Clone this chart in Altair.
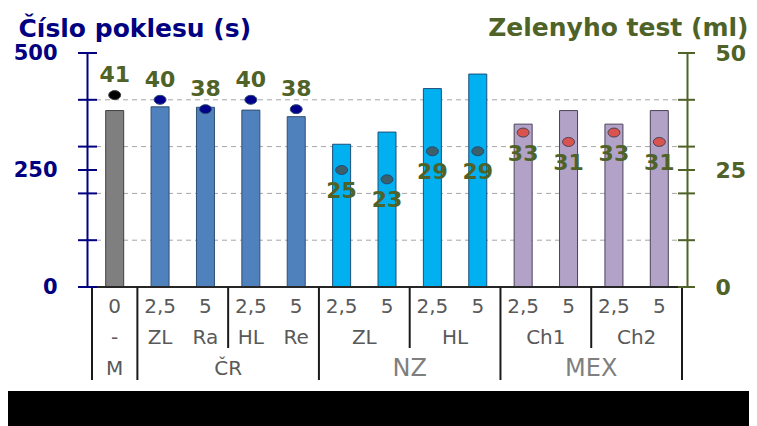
import altair as alt
import pandas as pd

# ---- data ----
row1 = ["0", "2,5", "5", "2,5", "5", "2,5", "5", "2,5", "5", "2,5", "5", "2,5", "5"]
group = ["M", "ČR", "ČR", "ČR", "ČR", "NZ", "NZ", "NZ", "NZ", "MEX", "MEX", "MEX", "MEX"]
cislo = [377, 385, 384, 378, 364, 305, 331, 424, 455, 348, 377, 348, 377]
zeleny = [41, 40, 38, 40, 38, 25, 23, 29, 29, 33, 31, 33, 31]

row2_labels = ["-", "ZL", "Ra", "HL", "Re", "ZL", "HL", "Ch1", "Ch2"]
row2_first = [0, 1, 2, 3, 4, 5, 7, 9, 11]
row2_last = [0, 1, 2, 3, 4, 6, 8, 10, 12]

row3_labels = ["M", "ČR", "NZ", "MEX"]
row3_first = [0, 1, 5, 9]
row3_last = [0, 4, 8, 12]

pair_bounds = [2.5, 6.5, 10.5]          # separators between sub-groups (rows 1-2)
grid_vals = [100, 200, 300, 400]
left_ticks = [0, 100, 200, 250, 300, 400, 500]
right_ticks = [0, 10, 20, 25, 30, 40, 50]

groups = ["M", "ČR", "NZ", "MEX"]
bar_fill = ["#7F7F7F", "#4F81BD", "#00B0F0", "#B3A2C7"]
bar_line = ["#3F3F3F", "#2F4F73", "#1F4E79", "#4A4458"]
dot_fill = ["#000000", "#00008B", "#3B5F6B", "#D9534F"]
dot_line = ["#000000", "#00005A", "#1F3A44", "#8B2E2B"]

NAVY = "#000080"
OLIVE = "#4F6228"
FONT = "DejaVu Sans"

# ---- tables ----
df = pd.DataFrame({"i": list(range(len(row1))), "row1": row1, "group": group,
                   "cislo": cislo, "zeleny": zeleny})
r2 = pd.DataFrame({"lab": row2_labels,
                   "c": [(a + b) / 2 for a, b in zip(row2_first, row2_last)]})
r3 = pd.DataFrame({"lab": row3_labels,
                   "c": [(a + b) / 2 for a, b in zip(row3_first, row3_last)]})
full_b = pd.DataFrame({"b": [f - 0.5 for f in row3_first] + [row3_last[-1] + 0.5]})
short_b = pd.DataFrame({"b": pair_bounds})

xs = alt.Scale(domain=[-0.5, 12.5], nice=False, zero=False)
yL = alt.Scale(domain=[0, 500], nice=False)
yR = alt.Scale(domain=[0, 50], nice=False)
X = lambda f: alt.X(f, scale=xs, axis=None)

ellipse = "M -1.33 0 A 1.33 1 0 1 0 1.33 0 A 1.33 1 0 1 0 -1.33 0 Z"

# ---- layers on the left scale ----
bg = alt.Chart(alt.Data(values=[{}])).mark_rect(color="white").encode(
    x=alt.value(-90), x2=alt.value(700), y=alt.value(-60), y2=alt.value(338))

grid = alt.Chart(pd.DataFrame({"v": grid_vals})).mark_rule(
    color="#A6A6A6", strokeDash=[5, 4], strokeWidth=1).encode(
    y=alt.Y("v:Q", scale=yL, axis=None), x=alt.value(0), x2=alt.value(600))

left_axis = alt.Axis(
    values=[0, 250, 500], title="Číslo poklesu (s)", titleAngle=0,
    titleX=-69, titleY=-17, titleAlign="left", titleBaseline="alphabetic",
    titleFont=FONT, titleFontSize=25, titleFontWeight="bold", titleColor=NAVY,
    labelFont=FONT, labelFontSize=21, labelFontWeight="bold", labelColor=NAVY,
    labelPadding=30, ticks=False, domainColor=NAVY, domainWidth=2, grid=False,
    zindex=1)

bars = alt.Chart(df).mark_bar(size=18, strokeWidth=1).encode(
    x=X("i:Q"),
    y=alt.Y("cislo:Q", scale=yL, axis=left_axis),
    color=alt.Color("group:N", scale=alt.Scale(domain=groups, range=bar_fill), legend=None),
    stroke=alt.Stroke("group:N", scale=alt.Scale(domain=groups, range=bar_line), legend=None),
)

baseline = alt.Chart(alt.Data(values=[{}])).mark_rule(color="#262626", strokeWidth=2).encode(
    y=alt.value(234), x=alt.value(-9), x2=alt.value(608))

sep_full = alt.Chart(full_b).mark_rule(color="#1A1A1A", strokeWidth=2).encode(
    x=X("b:Q"), y=alt.value(234), y2=alt.value(327))
sep_short = alt.Chart(short_b).mark_rule(color="#1A1A1A", strokeWidth=2).encode(
    x=X("b:Q"), y=alt.value(234), y2=alt.value(295))

lticks = alt.Chart(pd.DataFrame({"v": left_ticks})).mark_rule(color=NAVY, strokeWidth=2).encode(
    y=alt.Y("v:Q", scale=yL, axis=None), x=alt.value(-9), x2=alt.value(10))

t1 = alt.Chart(df).mark_text(font=FONT, fontSize=20, color="#595959", baseline="middle").encode(
    x=X("i:Q"), y=alt.value(254), text="row1:N")
t2 = alt.Chart(r2).mark_text(font=FONT, fontSize=20, color="#595959", baseline="middle").encode(
    x=X("c:Q"), y=alt.value(285), text="lab:N")
t3a = alt.Chart(r3).transform_filter(
    alt.FieldOneOfPredicate(field="lab", oneOf=["M", "ČR"])).mark_text(
    font=FONT, fontSize=20, color="#595959", baseline="middle").encode(
    x=X("c:Q"), y=alt.value(316), text="lab:N")
t3b = alt.Chart(r3).transform_filter(
    alt.FieldOneOfPredicate(field="lab", oneOf=["NZ", "MEX"])).mark_text(
    font=FONT, fontSize=24, color="#7F7F7F", baseline="middle").encode(
    x=X("c:Q"), y=alt.value(316), text="lab:N")

# ---- layers on the right scale ----
right_axis = alt.Axis(
    orient="right", values=[0, 25, 50], title="Zelenyho test (ml)", titleAngle=0,
    titleX=61, titleY=-18, titleAlign="right", titleBaseline="alphabetic",
    titleFont=FONT, titleFontSize=25, titleFontWeight="bold", titleColor=OLIVE,
    labelFont=FONT, labelFontSize=22, labelFontWeight="bold", labelColor=OLIVE,
    labelPadding=28, ticks=False, domainColor=OLIVE, domainWidth=2, grid=False,
    zindex=1)

dots = alt.Chart(df).mark_point(shape=ellipse, size=81, filled=True, opacity=1,
                                strokeWidth=1).encode(
    x=X("i:Q"),
    y=alt.Y("zeleny:Q", scale=yR, axis=right_axis),
    fill=alt.Fill("group:N", scale=alt.Scale(domain=groups, range=dot_fill), legend=None),
    stroke=alt.Stroke("group:N", scale=alt.Scale(domain=groups, range=dot_line), legend=None),
)

lab_up = alt.Chart(df).transform_filter(
    alt.FieldOneOfPredicate(field="group", oneOf=["M", "ČR"])).mark_text(
    font=FONT, fontSize=22, fontWeight="bold", color=OLIVE, dy=-20, baseline="middle").encode(
    x=X("i:Q"), y=alt.Y("zeleny:Q", scale=yR, axis=None), text="zeleny:Q")
lab_dn = alt.Chart(df).transform_filter(
    alt.FieldOneOfPredicate(field="group", oneOf=["NZ", "MEX"])).mark_text(
    font=FONT, fontSize=22, fontWeight="bold", color=OLIVE, dy=21, baseline="middle").encode(
    x=X("i:Q"), y=alt.Y("zeleny:Q", scale=yR, axis=None), text="zeleny:Q")

rticks = alt.Chart(pd.DataFrame({"v": right_ticks})).mark_rule(color=OLIVE, strokeWidth=2).encode(
    y=alt.Y("v:Q", scale=yR, axis=None), x=alt.value(591), x2=alt.value(608))

chart = alt.layer(
    bg, grid, bars, baseline, sep_full, sep_short, lticks, t1, t2, t3a, t3b,
    dots, rticks, lab_up, lab_dn,
).resolve_scale(y="independent").properties(
    width=600, height=234,
    padding={"left": 79, "top": 45, "right": 62, "bottom": 139},
    autosize=alt.AutoSizeParams(type="none"),
    background="black",
).configure_view(stroke=None)

chart.save("out.html", embed_options={"renderer": "svg", "actions": False})
